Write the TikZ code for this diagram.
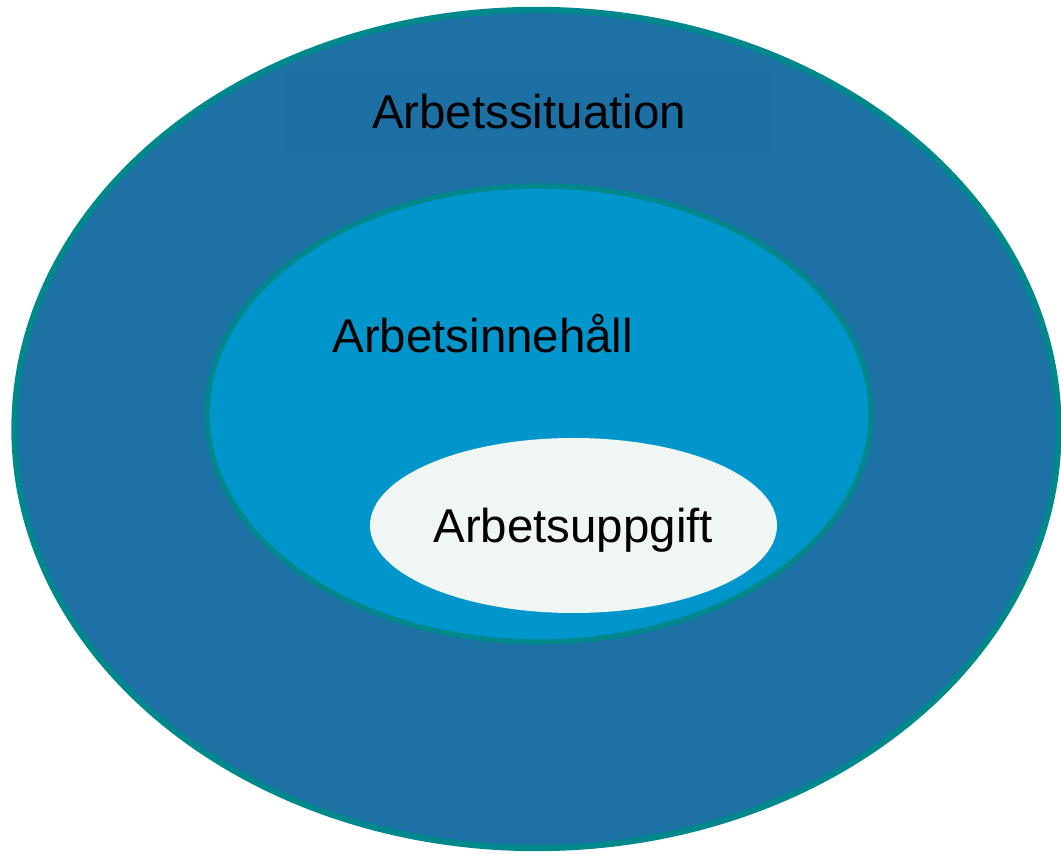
\documentclass[tikz,border=0pt]{standalone}
\usepackage{fontspec}
\setmainfont{Liberation Sans}
\usetikzlibrary{shapes.geometric, positioning}

\definecolor{outerblue}{RGB}{30,114,166}
\definecolor{boxblue}{RGB}{29,112,164}
\definecolor{midblue}{RGB}{0,150,204}
\definecolor{rimteal}{RGB}{0,136,140}
\definecolor{paleface}{RGB}{240,246,244}

\begin{document}
\begin{tikzpicture}[
  ring/.style={ellipse, draw=rimteal, inner sep=0pt},
  caption/.style={font=\fontsize{27}{32}\selectfont, text=black, inner sep=0pt}
]
\useasboundingbox (0,0) rectangle (21.22,17.06);

% Ellipses
\node[ring, line width=3.6pt, fill=outerblue, minimum width=20.88cm, minimum height=16.76cm] (situation) at (10.73, 8.48) {};
\node[ring, line width=3pt, fill=midblue, minimum width=13.28cm, minimum height=9.12cm] (innehall) at (10.78, 8.78) {};
\node[ellipse, fill=paleface, inner sep=0pt, minimum width=8.14cm, minimum height=3.5cm] (uppgift) at (11.47, 6.55) {};

% Labels
\node[caption, fill=boxblue, minimum width=9.76cm, minimum height=1.56cm] (t1) at (10.58, 14.82) {Arbetssituation};
\node[caption, anchor=base west] (t2) at (6.64, 10.0) {Arbetsinnehåll};
\node[caption, anchor=base west] (t3) at (8.66, 6.2) {Arbetsuppgift};

\end{tikzpicture}
\end{document}
